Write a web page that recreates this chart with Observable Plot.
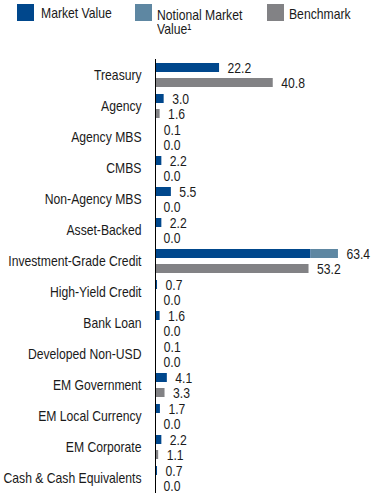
<!DOCTYPE html>
<html>
<head>
<meta charset="utf-8">
<script src="https://cdn.jsdelivr.net/npm/d3@7"></script>
<script src="https://cdn.jsdelivr.net/npm/@observablehq/plot@0.6"></script>
<style>
  body { margin: 0; background: #fff; font-family: "Liberation Sans", Arial, sans-serif; color: #1a1a1a; }
  #wrap { position: relative; width: 378px; }
  #legend { position: relative; height: 50px; font-size: 14.5px; line-height: 13.6px; }
  .sw { position: absolute; top: 4px; width: 17px; height: 17px; }
  .lt { position: absolute; white-space: nowrap; transform: scaleX(0.84); transform-origin: 0 0; }
  #chart svg { display: block; }
</style>
</head>
<body>
<div id="wrap">
  <div id="legend"></div>
  <div id="chart"></div>
</div>
<script>
const categories = ["Treasury", "Agency", "Agency MBS", "CMBS", "Non-Agency MBS", "Asset-Backed",
  "Investment-Grade Credit", "High-Yield Credit", "Bank Loan", "Developed Non-USD",
  "EM Government", "EM Local Currency", "EM Corporate", "Cash & Cash Equivalents"];
const marketValue = [22.2, 3.0, 0.1, 2.2, 5.5, 2.2, 53.9, 0.7, 1.6, 0.1, 4.1, 1.7, 2.2, 0.7];
const notionalValue = [0, 0, 0, 0, 0, 0, 9.5, 0, 0, 0, 0, 0, 0, 0];
const benchmark = [40.8, 1.6, 0.0, 0.0, 0.0, 0.0, 53.2, 0.0, 0.0, 0.0, 3.3, 0.0, 1.1, 0.0];
const seriesNames = ["Market Value", "Notional Market Value¹", "Benchmark"];
const seriesColors = ["#00478c", "#5e87a2", "#828285"];
const legendText = ["Market Value", "Notional Market<br>Value¹", "Benchmark"];

const bars = [];
const labels = [];
categories.forEach((c, i) => {
  bars.push({cat: c, row: "mv", type: seriesNames[0], value: marketValue[i]});
  bars.push({cat: c, row: "mv", type: seriesNames[1], value: notionalValue[i]});
  bars.push({cat: c, row: "bm", type: seriesNames[2], value: benchmark[i]});
  labels.push({cat: c, row: "mv", value: marketValue[i] + notionalValue[i]});
  labels.push({cat: c, row: "bm", value: benchmark[i]});
});

// Legend
const legend = document.getElementById("legend");
const legendPos = [[17, 41, 6.5], [135, 157, 9], [267, 289, 7.5]];
seriesNames.forEach((s, i) => {
  const sw = document.createElement("div");
  sw.className = "sw";
  sw.style.left = legendPos[i][0] + "px";
  sw.style.background = seriesColors[i];
  legend.appendChild(sw);
  const t = document.createElement("div");
  t.className = "lt";
  t.style.left = legendPos[i][1] + "px";
  t.style.top = legendPos[i][2] + "px";
  t.innerHTML = legendText[i];
  legend.appendChild(t);
});

const band = 31.9;
const chart = Plot.plot({
  width: 378,
  height: Math.round(2 + categories.length * band),
  marginLeft: 155,
  marginRight: 21,
  marginTop: 2,
  marginBottom: 0,
  style: {fontFamily: '"Liberation Sans", Arial, sans-serif', fontSize: "14.5px", color: "#1a1a1a", background: "#fff"},
  x: {domain: [0, 70], axis: null},
  y: {domain: ["mv", "bm"], axis: null, padding: 0},
  fy: {domain: categories, padding: 0, axis: null},
  color: {domain: seriesNames, range: seriesColors},
  marks: [
    Plot.barX(bars, {x: "value", y: "row", fy: "cat", fill: "type", insetTop: 3, insetBottom: 3}),
    Plot.ruleX([0], {stroke: "#000", strokeWidth: 1}),
    Plot.text(labels, {x: "value", y: "row", fy: "cat", text: d => d.value.toFixed(1), dx: 8, textAnchor: "start", fontSize: 14.5, fill: "#1a1a1a"}),
    Plot.axisFy({anchor: "left", tickSize: 0, tickPadding: 14, label: null, fontSize: 14.5, fill: "#1a1a1a"})
  ]
});
document.getElementById("chart").appendChild(chart);

// condense text horizontally around its anchor to match the narrow look of the original typeface
const sx = 0.84;
chart.querySelectorAll("text").forEach(el => {
  const r = el.getBoundingClientRect();
  const anchor = getComputedStyle(el).textAnchor;
  const ax = anchor === "end" ? r.right : anchor === "middle" ? (r.left + r.right) / 2 : r.left;
  const ay = (r.top + r.bottom) / 2;
  const parent = el.parentNode;
  const p = new DOMPoint(ax, ay).matrixTransform(parent.getScreenCTM().inverse());
  const g = document.createElementNS("http://www.w3.org/2000/svg", "g");
  g.setAttribute("transform", `translate(${p.x},${p.y}) scale(${sx},1) translate(${-p.x},${-p.y})`);
  parent.insertBefore(g, el);
  g.appendChild(el);
});
</script>
</body>
</html>
